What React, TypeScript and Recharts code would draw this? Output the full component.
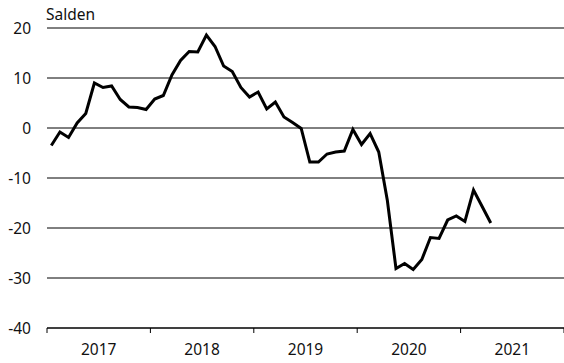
// Salden line chart, monthly 2017 - 2021

import React from 'react'
import { LineChart, Line, XAxis, YAxis, CartesianGrid } from 'recharts'

const YEARS = ['2017', '2018', '2019', '2020', '2021']
const Y_TICKS = [-40, -30, -20, -10, 0, 10, 20]
const YEAR_BOUNDS = [0, 12, 24, 36, 48, 60]

// monthly balances, Jan 2017 .. Apr 2021
const SALDEN = [
  -3.5, -0.8, -1.9, 1.0, 2.9, 9.0, 8.1, 8.4, 5.7, 4.2, 4.1, 3.7,
  5.8, 6.5, 10.6, 13.5, 15.3, 15.2, 18.6, 16.3, 12.4, 11.3, 8.1, 6.2,
  7.2, 3.8, 5.2, 2.2, 1.1, -0.1, -6.8, -6.8, -5.2, -4.8, -4.6, -0.3,
  -3.3, -1.1, -4.8, -14.5, -28.1, -27.1, -28.3, -26.3, -21.9, -22.1, -18.4, -17.6,
  -18.7, -12.4, -15.7, -19.0,
]

const data = SALDEN.map((v, i) => ({ m: i + 0.5, v }))

const FONT = '"Noto Sans", sans-serif'

const YTick = (props: any) => {
  const { y, payload } = props
  return (
    <text x={31} y={y} textAnchor="end" dominantBaseline="central" fontSize={15.5} fill="#111" fontFamily={FONT}>
      {payload.value}
    </text>
  )
}

// year label sits in the middle of each year band
const XTick = (props: any) => {
  const { x, y, index, width } = props
  const label = YEARS[index]
  if (!label) return null
  const half = (width || 517) / YEARS.length / 2
  return (
    <text x={x + half} y={y + 14} textAnchor="middle" dominantBaseline="central" fontSize={15.5} fill="#111" fontFamily={FONT}>
      {label}
    </text>
  )
}

export default function App() {
  return (
    <div style={{ position: 'relative', width: 564, height: 363, background: '#fff', fontFamily: FONT }}>
      <style>{'body{margin:0}'}</style>
      <div style={{ position: 'absolute', left: 46, top: 4, fontSize: 15.5, color: '#111', lineHeight: '20px' }}>Salden</div>
      <LineChart width={564} height={363} data={data} margin={{ top: 28, right: 0, left: 0, bottom: 0 }}>
        <CartesianGrid horizontal vertical={false} stroke="#000" strokeWidth={1} />
        <XAxis
          dataKey="m"
          type="number"
          domain={[0, 60]}
          ticks={YEAR_BOUNDS}
          height={35}
          axisLine={{ stroke: '#000' }}
          tickLine={{ stroke: '#000' }}
          tickSize={5}
          tick={<XTick />}
        />
        <YAxis
          domain={[-40, 20]}
          ticks={Y_TICKS}
          width={47}
          axisLine={false}
          tickLine={false}
          tick={<YTick />}
        />
        <Line
          dataKey="v"
          stroke="#000"
          strokeWidth={3}
          dot={false}
          isAnimationActive={false}
        />
      </LineChart>
    </div>
  )
}
